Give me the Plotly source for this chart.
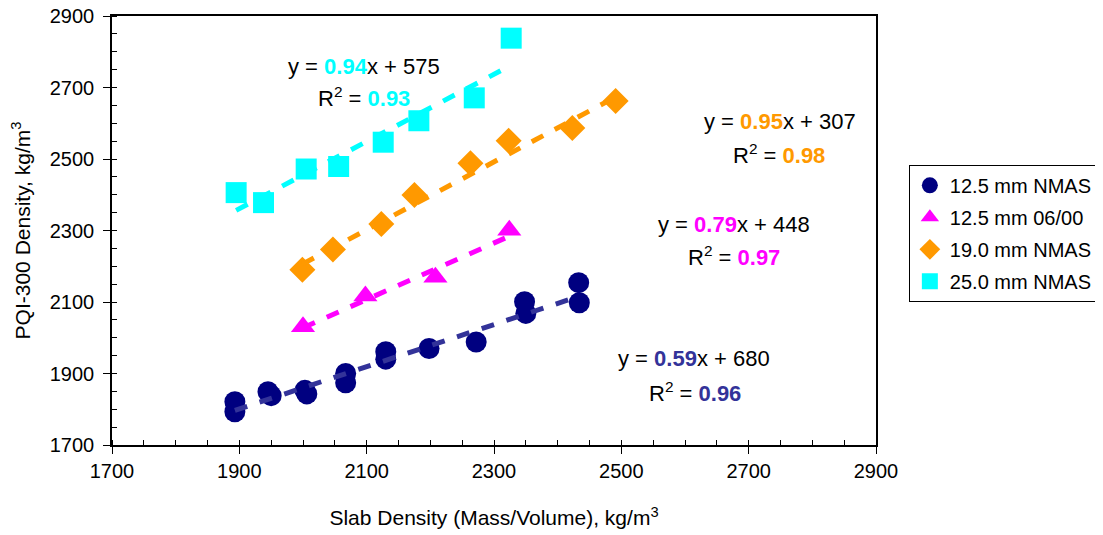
import numpy as np
import plotly.graph_objects as go

# ---- data ----
navy_x = [1893, 1893, 1945, 1950, 2003, 2006, 2067, 2067, 2130, 2130, 2198, 2272, 2348, 2350, 2433, 2434]
navy_y = [1821, 1793, 1849, 1838, 1853, 1843, 1900, 1874, 1961, 1940, 1970, 1988, 2101, 2068, 2154, 2098]

mag_x = [2000, 2098, 2208, 2324]
mag_y = [2031, 2117, 2169, 2301]

org_x = [1999, 2047, 2123, 2175, 2263, 2323, 2423, 2491]
org_y = [2190, 2247, 2318, 2399, 2488, 2551, 2587, 2662]

cyan_x = [1895, 1938, 2005, 2056, 2126, 2182, 2269, 2327]
cyan_y = [2406, 2378, 2472, 2479, 2547, 2607, 2671, 2838]

series_names = ["12.5 mm NMAS", "12.5 mm 06/00", "19.0 mm NMAS", "25.0 mm NMAS"]
slopes = [0.59, 0.79, 0.95, 0.94]
intercepts = [680, 448, 307, 575]
r2_values = [0.96, 0.97, 0.98, 0.93]

x_ticks = [1700, 1900, 2100, 2300, 2500, 2700, 2900]
y_ticks = [1700, 1900, 2100, 2300, 2500, 2700, 2900]

# ---- styles ----
FONT = "Liberation Sans, Arial"
marker_colors = ["#000080", "#FF00FF", "#FF9900", "#00FFFF"]
line_colors = ["#333399", "#FF00FF", "#FF9900", "#00FFFF"]
symbols = ["circle", "triangle-up", "diamond", "square"]
sizes = [21, 21, 20, 21]
data_x = [navy_x, mag_x, org_x, cyan_x]
data_y = [navy_y, mag_y, org_y, cyan_y]
# label placement: (eq x px, r2 x px, eq y value, r2 y value)
ann_pos = [(694, 695, 1943, 1848), (734, 734, 2318, 2229), (780, 779, 2606, 2514), (364, 364, 2760, 2673)]

fig = go.Figure()

for i in range(4):
    fig.add_trace(go.Scatter(x=data_x[i], y=data_y[i], mode="markers", name=series_names[i],
                             legendgroup=f"g{i}",
                             marker=dict(symbol=symbols[i], color=marker_colors[i], size=sizes[i],
                                         line=dict(width=0))))

for i in range(4):
    xs = np.array([min(data_x[i]), max(data_x[i])], dtype=float)
    ys = slopes[i] * xs + intercepts[i]
    fig.add_trace(go.Scatter(x=xs, y=ys, mode="lines", showlegend=False, hoverinfo="skip",
                             line=dict(color=line_colors[i], width=5, dash="13px,13px")))

def px_to_x(px):
    return 1700 + (px - 112) / (875.5 - 112) * 1200

for i in range(4):
    c = line_colors[i]
    fig.add_annotation(x=px_to_x(ann_pos[i][0]), y=ann_pos[i][2], xref="x", yref="y", showarrow=False,
                       text=f"y = <b><span style='color:{c}'>{slopes[i]:.2f}</span></b>x + {intercepts[i]}",
                       font=dict(size=22, color="black", family=FONT))
    fig.add_annotation(x=px_to_x(ann_pos[i][1]), y=ann_pos[i][3], xref="x", yref="y", showarrow=False,
                       text=f"R<sup>2</sup> = <b><span style='color:{c}'>{r2_values[i]:.2f}</span></b>",
                       font=dict(size=22, color="black", family=FONT))

axis_common = dict(showgrid=False, zeroline=False, showline=True, linecolor="black", linewidth=1.5,
                   mirror=True, ticks="outside", ticklen=7, tickwidth=1, tickcolor="black",
                   ticklabeloverflow="allow", automargin=False,
                   tickfont=dict(size=20, color="black", family=FONT),
                   minor=dict(ticks="inside", ticklen=5, dtick=50, tickcolor="black", tickwidth=1, showgrid=False))

fig.update_xaxes(range=[1700, 2900], tickvals=x_ticks, ticktext=[str(v) for v in x_ticks],
                 ticklabelstandoff=0,
                 title=dict(text="Slab Density (Mass/Volume), kg/m<sup>3</sup>",
                            font=dict(size=21, color="black", family=FONT), standoff=30),
                 **axis_common)
fig.update_yaxes(range=[1700, 2900], tickvals=y_ticks, ticktext=[str(v) for v in y_ticks],
                 ticklabelstandoff=5,
                 title=dict(text="PQI-300 Density, kg/m<sup>3</sup>",
                            font=dict(size=21, color="black", family=FONT), standoff=16),
                 **axis_common)

fig.update_layout(
    width=1103, height=527,
    margin=dict(l=104, r=235, t=8, b=90, autoexpand=False),
    paper_bgcolor="white", plot_bgcolor="white",
    font=dict(family=FONT, color="black"),
    legend=dict(x=1.043, y=0.653, xanchor="left", yanchor="top", bordercolor="black", borderwidth=1,
                font=dict(size=20, color="black", family=FONT),
                itemsizing="trace", tracegroupgap=3, bgcolor="white"),
)

fig.write_html("out.html")
